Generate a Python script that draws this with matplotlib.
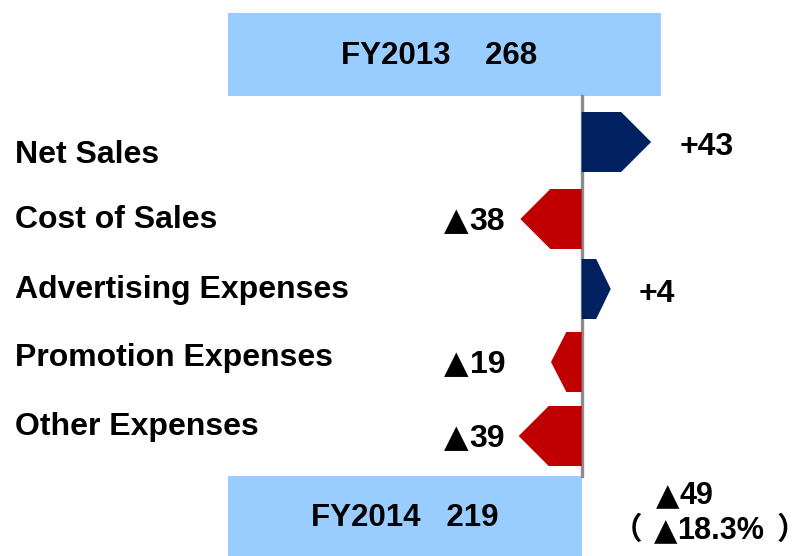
import numpy as np
import matplotlib.pyplot as plt
from matplotlib.patches import Polygon, Rectangle

# data
start_label, start_value = "FY2013", 268
end_label, end_value = "FY2014", 219
items = ["Net Sales", "Cost of Sales", "Advertising Expenses", "Promotion Expenses", "Other Expenses"]
deltas = [43, -38, 4, -19, -39]
total_change = -49
total_pct = -18.3

BLUE = "#002060"
RED = "#C00000"
BOX = "#99CCFF"
LIB = "Liberation Sans"
TRI = "DejaVu Sans"
CJK = "Noto Sans CJK JP"

# layout (pixel rows, x in value units, 0 at x=228px)
px = 1.615
x0 = 228 / px
row_y = [142, 219, 289, 362, 436]
label_y = [155, 220, 290, 358, 427]
arrow_h = 60
min_len = 18  # tiny changes get a minimum visible length

def tox(p):
    return (p - 228) / px

fig = plt.figure(figsize=(7.95, 5.56), dpi=100)
ax = fig.add_axes([0, 0, 1, 1])
ax.set_xlim(-x0, tox(795))
ax.set_ylim(556, 0)
ax.axis("off")


def chain(pieces, x, y, size, gaps=None):
    # left-aligned run of text pieces in different fonts
    t = ax.text(x, y, pieces[0][0], ha="left", va="center", fontsize=size,
                fontweight="bold", family=pieces[0][1])
    for i, (s, fam) in enumerate(pieces[1:]):
        g = gaps[i] if gaps else 0
        t = ax.annotate(s, xy=(1, 0), xycoords=t, xytext=(g, 0), textcoords="offset points",
                        ha="left", va="bottom", fontsize=size, fontweight="bold", family=fam)
    return t


def neg_label(v, x_right, y, size):
    t = ax.text(x_right, y, str(abs(v)), ha="right", va="center", fontsize=size,
                fontweight="bold", family=LIB)
    ax.annotate("\u25b2", xy=(0, 0), xycoords=t, xytext=(-0.5, 0), textcoords="offset points",
                ha="right", va="bottom", fontsize=size, family=TRI)


# start / end boxes
ax.add_patch(Rectangle((0, 13), start_value, 83, color=BOX, lw=0))
ax.text(tox(439), 56, f"{start_label}    {start_value}", ha="center", va="center",
        fontsize=22.5, fontweight="bold", family=LIB)
ax.add_patch(Rectangle((0, 476), end_value, 80, color=BOX, lw=0))
ax.text(end_value / 2, 518, f"{end_label}   {end_value}", ha="center", va="center",
        fontsize=22.5, fontweight="bold", family=LIB)

# baseline
ax.plot([end_value, end_value], [96, 476], color="#8c8c8c", lw=2.4, zorder=1)

for name, d, yc, ly in zip(items, deltas, row_y, label_y):
    length = max(abs(d), min_len)
    sgn = np.sign(d)
    tip = min(30 / px, length / 2)
    base = end_value
    end = base + sgn * length
    sh = end - sgn * tip
    top, bot = yc - arrow_h / 2, yc + arrow_h / 2
    pts = [(base, top), (sh, top), (end, yc), (sh, bot), (base, bot)]
    ax.add_patch(Polygon(pts, closed=True, color=BLUE if d > 0 else RED, lw=0, zorder=2))
    ax.text(tox(15), ly, name, ha="left", va="center", fontsize=23,
            fontweight="bold", family=LIB)
    if d > 0:
        ax.text(end + 28 / px, yc + 5, f"+{d}", ha="left", va="center", fontsize=23,
                fontweight="bold", family=LIB)
    else:
        neg_label(d, tox(505), yc + 3, 23)

# total change
chain([("\u25b2", TRI), (str(abs(total_change)), LIB)], tox(656), 497, 22)
chain([("\uff08", CJK), ("\u25b2", TRI), (f"{abs(total_pct)}%", LIB), ("\uff09", CJK)],
      tox(612), 530, 22, gaps=[8, 0, 9])

fig.savefig("out.png", dpi=100)
